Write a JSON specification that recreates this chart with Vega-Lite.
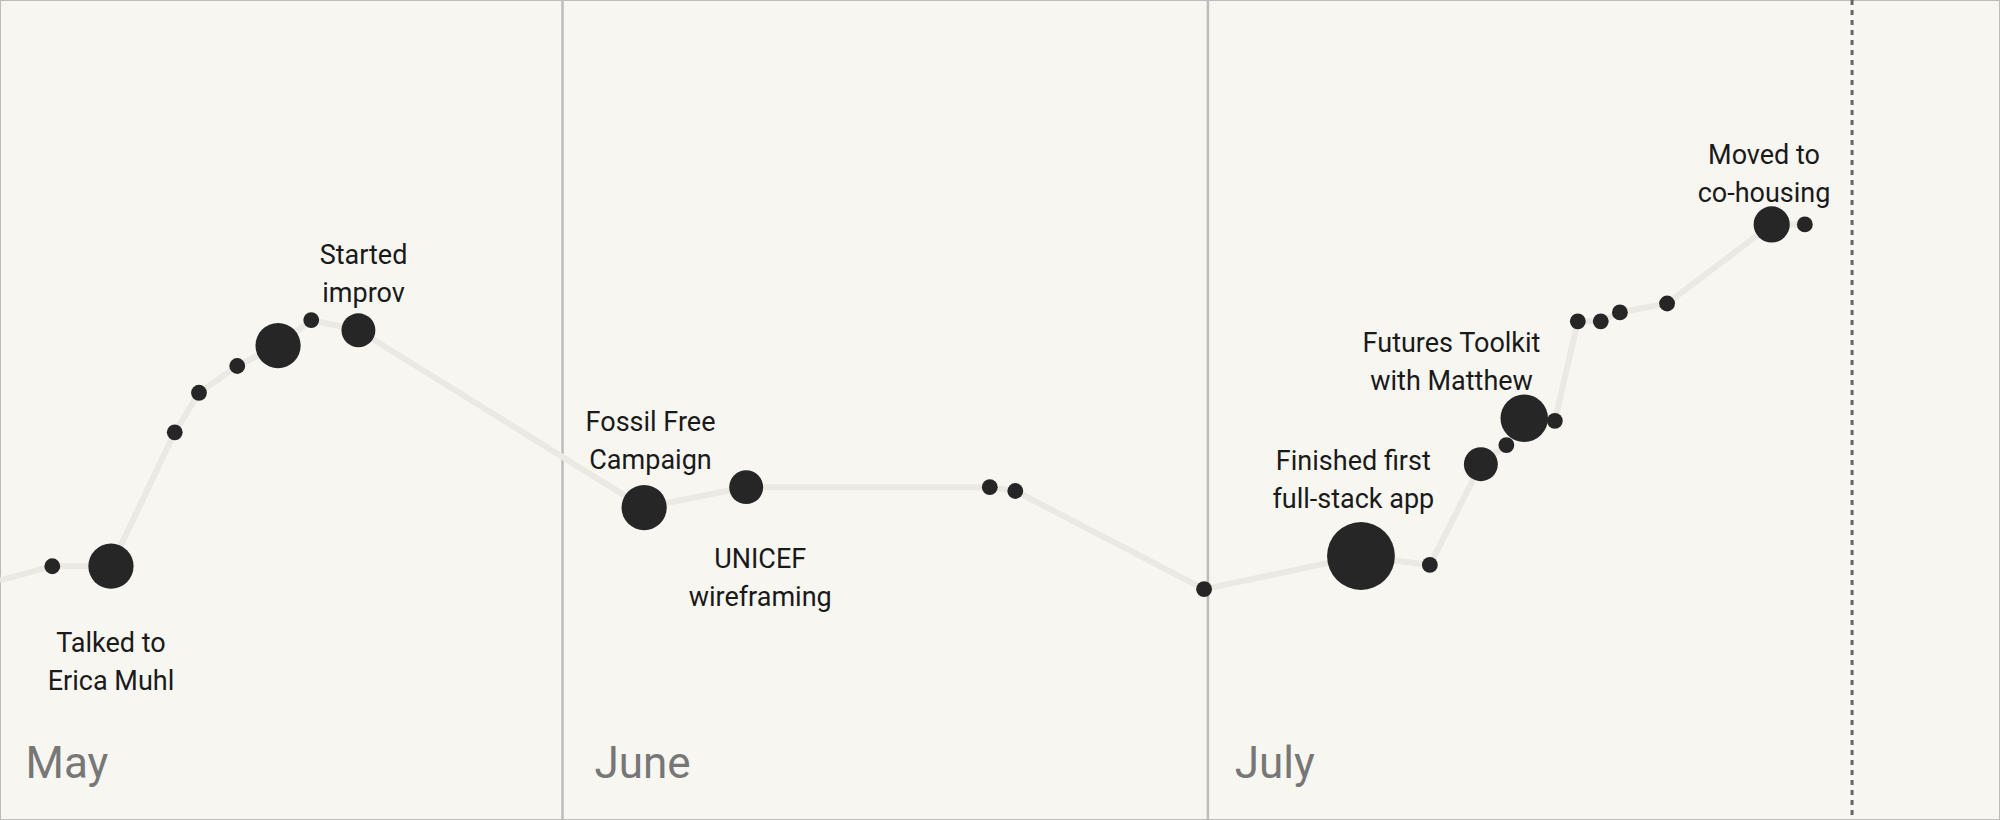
{
"$schema":"https://vega.github.io/schema/vega-lite/v6.json",
"width":2000,"height":820,
"autosize":{"type":"none"},
"padding":0,
"background":"#f7f6f1",
"config":{"view":{"stroke":"#bdbcb8","strokeWidth":2}},
"datasets":{
"pts":[
{"x":0,"y":455,"w":0},{"x":41,"y":444,"w":7},{"x":87,"y":444,"w":20},{"x":137,"y":339,"w":7},{"x":156,"y":308,"w":7},{"x":186,"y":287,"w":7},{"x":218,"y":271,"w":20},{"x":244,"y":251,"w":7},{"x":281,"y":259,"w":15},{"x":505,"y":398,"w":20},{"x":585,"y":382,"w":15},{"x":776,"y":382,"w":7},{"x":796,"y":385,"w":7},{"x":944,"y":462,"w":7},{"x":1067,"y":436,"w":30},{"x":1121,"y":443,"w":7},{"x":1161,"y":364,"w":15},{"x":1181,"y":349,"w":7},{"x":1195,"y":328,"w":21},{"x":1219,"y":330,"w":7},{"x":1237,"y":252,"w":7},{"x":1255,"y":252,"w":7},{"x":1270,"y":245,"w":7},{"x":1307,"y":238,"w":7},{"x":1389,"y":176,"w":16},{"x":1415,"y":176,"w":7}],
"labels":[
{"x":87,"y":505,"t":["Talked to","Erica Muhl"]},
{"x":285,"y":201,"t":["Started","improv"]},
{"x":510,"y":332,"t":["Fossil Free","Campaign"]},
{"x":596,"y":439,"t":["UNICEF","wireframing"]},
{"x":1061,"y":362,"t":["Finished first","full-stack app"]},
{"x":1138,"y":270,"t":["Futures Toolkit","with Matthew"]},
{"x":1383,"y":122,"t":["Moved to","co-housing"]}],
"months":[{"x":20,"y":600,"t":"May"},{"x":466,"y":600,"t":"June"},{"x":968,"y":600,"t":"July"}],
"rules":[{"x":441},{"x":947}],
"dash":[{"x":1452}]
},
"encoding":{
"x":{"field":"x","type":"quantitative","scale":{"domain":[0,1568],"nice":false,"zero":false},"axis":null},
"y":{"field":"y","type":"quantitative","scale":{"domain":[0,643],"reverse":true,"nice":false,"zero":false},"axis":null}
},
"layer":[
{"data":{"name":"rules"},"mark":{"type":"rule","color":"#bdbcb8","strokeWidth":2.5},"encoding":{"y":null}},
{"data":{"name":"dash"},"mark":{"type":"rule","color":"#666","strokeWidth":3,"strokeDash":[5,5]},"encoding":{"y":null}},
{"data":{"name":"pts"},"mark":{"type":"line","color":"#eae9e3","strokeWidth":6},"encoding":{"order":{"field":"x"}}},
{"data":{"name":"pts"},"mark":{"type":"circle","color":"#262626","opacity":1},"encoding":{"size":{"field":"w","type":"quantitative","legend":null,"scale":{"type":"pow","exponent":2,"domain":[0,30],"range":[0,4600]}}}},
{"data":{"name":"labels"},"mark":{"type":"text","font":"Roboto","fontSize":27,"lineHeight":38,"align":"center","baseline":"middle","color":"#1a1a1a"},"encoding":{"text":{"field":"t"}}},
{"data":{"name":"months"},"mark":{"type":"text","font":"Roboto","fontSize":44,"align":"left","baseline":"middle","color":"#777"},"encoding":{"text":{"field":"t"}}}
]
}
